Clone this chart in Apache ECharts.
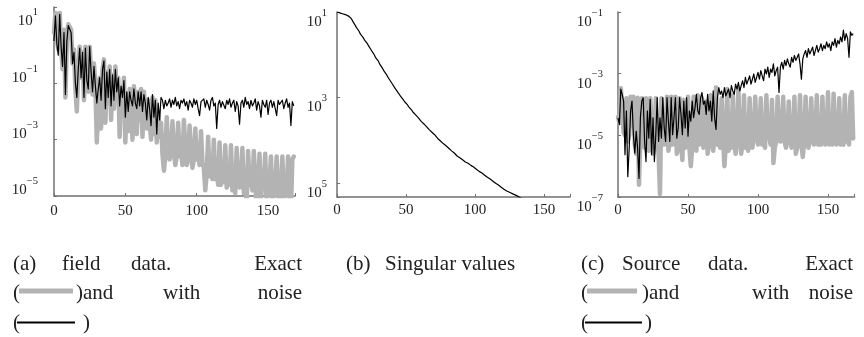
<!DOCTYPE html>
<html><head><meta charset="utf-8">
<script src="https://cdn.jsdelivr.net/npm/echarts@6/dist/echarts.min.js"></script>
<style>html,body{margin:0;padding:0;background:#fff}#c{width:864px;height:337px}</style>
</head><body><div id="c"></div>
<script>
// ---- data (log10 exponents) ----
const xTickValues = [0, 50, 100, 150];
const fieldExactExp = [0.8,1.5,0.6,0.2,1.5,0.3,-0.5,0.9,-1.5,0.5,
1.1,1.05,0.9,-0.3,0.2,-1.2,-2.0,-0.5,0.3,-0.8,
0.1,-1.6,0.3,-0.9,-1.3,0.3,-0.6,-1.4,-0.3,-1.1,
-3.1,-1.7,-0.8,-2.6,-0.5,-0.15,-2.4,-0.6,-1.7,-0.4,
-2.3,-0.7,-1.9,-0.4,-1.2,-0.8,-2.9,-1.2,-1.8,-0.8,
-3.1,-1.4,-2.7,-1.2,-1.6,-3.0,-1.1,-2.0,-2.8,-1.3,
-2.3,-1.2,-2.9,-1.3,-2.0,-2.6,-1.6,-2.4,-3.0,-1.5,
-2.8,-1.6,-3.1,-2.0,-2.9,-2.4,-3.5,-4.1,-3.6,-2.2,
-3.4,-3.7,-3.5,-2.35,-3.4,-3.9,-3.6,-2.4,-3.6,-3.4,
-3.9,-2.3,-3.3,-3.9,-3.6,-2.5,-3.5,-4.0,-3.7,-2.6,
-3.7,-3.5,-3.9,-2.7,-3.8,-4.0,-4.8,-4.2,-2.9,-4.3,
-4.0,-4.4,-3.0,-4.4,-4.0,-4.6,-3.1,-4.6,-4.3,-4.5,
-3.2,-4.7,-4.4,-4.6,-3.2,-4.8,-4.4,-4.9,-3.3,-4.5,
-4.7,-4.5,-3.3,-4.9,-4.5,-5.3,-3.4,-4.6,-4.4,-4.8,
-3.4,-4.5,-5.4,-4.6,-3.5,-5.1,-4.5,-4.7,-3.5,-5.4,
-4.6,-4.5,-3.6,-5.2,-4.6,-4.8,-3.6,-5.5,-5.3,-4.6,
-3.6,-5.2,-4.6,-4.8,-3.6,-5.6,-5.5,-3.7,-3.6];
const fieldNoisyExp = [0.5,1.4,0.4,0.0,1.45,0.3,-0.4,0.8,-1.4,0.5,
1.05,1.0,0.8,-0.3,0.1,-1.0,-1.5,-0.5,0.25,-0.8,
0.1,-1.5,0.25,-0.9,-1.2,0.3,-0.6,-1.3,-0.4,-1.1,
-1.7,-1.2,-0.8,-1.6,-0.5,-0.2,-1.9,-0.6,-1.5,-0.5,
-1.8,-0.7,-1.6,-0.5,-1.3,-0.8,-1.8,-1.1,-1.5,-0.9,
-2.2,-1.3,-2.0,-1.3,-1.6,-1.8,-1.2,-1.7,-1.9,-1.3,
-1.8,-1.3,-2.0,-1.4,-1.7,-2.3,-1.5,-1.9,-2.5,-1.4,
-2.2,-1.6,-2.8,-1.7,-2.3,-1.5,-1.6,-1.9,-1.6,-1.8,
-1.7,-1.55,-1.85,-1.6,-1.75,-1.5,-1.8,-1.65,-1.9,-1.6,
-1.7,-1.55,-1.8,-1.65,-1.95,-1.6,-1.7,-1.85,-1.55,-1.75,
-1.6,-1.9,-2.15,-1.65,-1.7,-1.55,-1.85,-1.6,-1.75,-1.95,
-1.6,-1.5,-1.8,-1.7,-2.6,-1.75,-1.6,-1.85,-1.65,-1.7,
-1.9,-1.6,-1.75,-1.55,-1.85,-1.7,-1.6,-2.0,-1.65,-1.8,
-2.45,-1.7,-1.6,-1.85,-1.5,-1.75,-1.65,-1.9,-1.6,-1.8,
-1.7,-1.55,-1.95,-1.65,-1.8,-2.2,-1.6,-1.75,-1.85,-1.6,
-2.1,-1.7,-1.6,-1.85,-1.65,-1.9,-2.15,-1.6,-1.75,-1.8,
-1.6,-1.9,-1.7,-1.55,-1.85,-1.7,-2.5,-1.65,-1.8];
const singularExp = [1.00,1.01,1.02,1.03,1.04,1.05,1.06,1.07,1.09,1.11,
1.14,1.19,1.25,1.30,1.36,1.40,1.45,1.52,1.55,1.60,
1.66,1.69,1.74,1.80,1.83,1.90,1.95,2.00,2.07,2.10,
2.15,2.22,2.25,2.32,2.38,2.41,2.47,2.53,2.58,2.62,
2.68,2.72,2.78,2.83,2.86,2.92,2.97,3.00,3.05,3.10,
3.13,3.17,3.22,3.25,3.29,3.34,3.37,3.41,3.45,3.48,
3.52,3.56,3.59,3.62,3.66,3.69,3.72,3.76,3.78,3.82,
3.86,3.88,3.92,3.96,3.99,4.02,4.04,4.08,4.11,4.13,
4.16,4.19,4.21,4.25,4.28,4.30,4.34,4.37,4.39,4.41,
4.44,4.46,4.48,4.51,4.53,4.54,4.57,4.59,4.61,4.63,
4.66,4.68,4.70,4.73,4.75,4.77,4.80,4.82,4.84,4.87,
4.89,4.91,4.94,4.96,4.98,5.01,5.03,5.05,5.08,5.10,
5.12,5.15,5.17,5.19,5.21,5.22,5.24,5.25,5.27,5.28,
5.30,5.31,5.33,5.35,5.37];
const sourceExactExp = [-4.4,-4.6,-3.47,-3.5,-4.9,-5.0,-3.8,-5.2,-5.0,-3.75,
-4.7,-3.75,-5.3,-5.6,-3.78,-6.6,-5.0,-3.8,-5.0,-5.4,
-3.8,-5.1,-5.5,-3.8,-4.6,-5.6,-5.3,-3.8,-5.2,-5.6,
-6.9,-3.8,-3.78,-5.3,-5.0,-3.75,-5.5,-5.2,-3.75,-5.3,
-4.9,-3.75,-5.6,-5.4,-3.8,-5.2,-5.8,-3.85,-5.4,-5.1,
-3.75,-5.4,-6.0,-5.4,-3.75,-5.1,-5.5,-3.7,-5.3,-4.9,
-3.8,-5.4,-5.3,-3.9,-5.6,-5.2,-3.7,-5.2,-5.5,-5.0,
-3.45,-5.3,-5.1,-5.4,-3.8,-5.0,-6.0,-5.3,-3.5,-5.5,
-5.2,-5.4,-3.7,-5.2,-5.6,-5.0,-3.5,-5.1,-5.6,-5.2,
-3.7,-5.4,-5.2,-5.5,-3.8,-5.2,-5.4,-5.0,-3.75,-4.9,
-5.3,-5.0,-3.8,-5.3,-5.1,-5.4,-3.7,-5.1,-5.0,-5.3,
-3.85,-5.9,-5.4,-5.2,-3.75,-4.8,-5.2,-5.1,-3.75,-5.2,
-5.4,-5.0,-3.9,-5.2,-5.4,-5.3,-3.75,-5.6,-5.4,-5.1,
-3.7,-5.3,-5.7,-5.2,-3.75,-5.0,-5.4,-5.2,-3.8,-5.0,
-5.3,-5.1,-3.7,-5.3,-5.0,-5.3,-3.75,-5.1,-5.3,-5.0,
-3.6,-5.3,-5.1,-5.3,-3.65,-5.1,-5.3,-5.1,-3.8,-5.3,
-5.2,-5.3,-3.7,-5.2,-4.9,-5.3,-3.75,-3.6,-5.1];
const sourceNoisyExp = [-4.43,-4.65,-3.50,-3.67,-3.89,-5.63,-4.21,-6.34,-5.42,-4.21,
-3.89,-4.98,-5.58,-4.87,-5.42,-6.40,-4.43,-3.89,-3.78,-5.20,
-5.85,-4.21,-5.09,-3.83,-5.63,-4.43,-5.85,-4.98,-3.78,-5.20,
-4.43,-5.09,-3.78,-4.76,-5.20,-3.78,-4.54,-5.20,-3.78,-4.98,
-4.43,-3.78,-5.09,-4.76,-3.78,-4.32,-4.98,-3.89,-4.76,-3.78,
-5.03,-4.21,-4.54,-3.89,-4.43,-4.10,-3.67,-4.21,-4.32,-3.78,
-3.61,-3.99,-3.89,-4.32,-3.67,-4.21,-3.89,-4.54,-3.56,-4.43,
-4.81,-3.78,-3.45,-3.67,-3.56,-3.78,-3.45,-3.72,-3.61,-3.50,
-3.78,-3.39,-3.56,-3.67,-3.34,-3.50,-3.28,-3.56,-3.39,-3.23,
-3.45,-3.12,-3.34,-3.28,-3.07,-3.34,-3.18,-3.01,-3.28,-3.12,
-2.96,-3.18,-2.90,-3.07,-3.23,-2.85,-3.01,-2.79,-3.12,-2.85,
-2.96,-2.68,-3.07,-2.90,-2.79,-3.61,-2.79,-2.63,-2.85,-2.57,
-2.74,-2.52,-2.68,-2.79,-2.47,-2.63,-2.41,-2.57,-2.47,-2.36,
-2.68,-3.18,-2.52,-2.36,-2.25,-2.47,-2.19,-2.36,-2.30,-2.14,
-2.41,-2.25,-2.08,-2.30,-2.19,-2.03,-2.25,-2.08,-2.19,-1.97,
-2.14,-2.03,-2.25,-1.97,-2.08,-1.86,-2.14,-1.92,-2.03,-1.81,
-1.97,-1.59,-1.92,-1.70,-1.86,-2.47,-1.645,-1.755,-1.70];

// ---- styling / layout ----
const SERIF = '"Liberation Serif", "DejaVu Serif", serif';
const AXIS_COLOR = '#707070';
const TEXT_COLOR = '#222';
const GRAY = '#b3b3b3';

function toPairs(exps) { return exps.map((e, i) => [i, Math.pow(10, e)]); }

function powLabel(showSign) {
  return function (v) {
    const l = Math.log10(v);
    const e = Math.round(l);
    if (Math.abs(l - e) > 1e-6) return '';
    const s = showSign && e < 0 ? '\u2212' + Math.abs(e) : String(Math.abs(e));
    return '{b|10}{s|' + s + '}';
  };
}
const rich = {
  b: { fontFamily: SERIF, fontSize: 15, color: TEXT_COLOR, lineHeight: 22, verticalAlign: 'bottom' },
  s: { fontFamily: SERIF, fontSize: 10.5, color: TEXT_COLOR, verticalAlign: 'top' }
};

function xAx(gi, margin) {
  return {
    gridIndex: gi, type: 'value', min: 0, max: 169, interval: 50,
    axisLine: { lineStyle: { color: AXIS_COLOR, width: 1.5 } },
    axisTick: { inside: true, length: 3, lineStyle: { color: AXIS_COLOR } },
    splitLine: { show: false },
    axisLabel: {
      margin: margin, fontFamily: SERIF, fontSize: 15, color: TEXT_COLOR,
      formatter: v => (xTickValues.indexOf(v) >= 0 ? String(v) : '')
    }
  };
}
function yAx(gi, min, max, inverse, margin, padding, showSign) {
  return {
    gridIndex: gi, type: 'log', logBase: 10, min: min, max: max, interval: 2, inverse: inverse,
    axisLine: { show: true, lineStyle: { color: AXIS_COLOR, width: 1.5 } },
    axisTick: { show: true, inside: true, length: 3, lineStyle: { color: AXIS_COLOR } },
    splitLine: { show: false }, minorTick: { show: false },
    axisLabel: { margin: margin, padding: padding, showMinLabel: true, showMaxLabel: true,
      formatter: powLabel(showSign), rich: rich }
  };
}

// caption layout
const capFont = '21px ' + SERIF;
const captionWords = [
  ['(a)', 13, 264, 'left'], ['field', 62, 264, 'left'], ['data.', 131, 264, 'left'], ['Exact', 302, 264, 'right'],
  ['(', 13, 293, 'left'], [')and', 76, 293, 'left'], ['with', 163, 293, 'left'], ['noise', 302, 293, 'right'],
  ['(', 13, 323, 'left'], [')', 83, 323, 'left'],
  ['(b)', 346, 264, 'left'], ['Singular values', 385, 264, 'left'],
  ['(c)', 581, 264, 'left'], ['Source', 622, 264, 'left'], ['data.', 708, 264, 'left'], ['Exact', 853, 264, 'right'],
  ['(', 581, 293, 'left'], [')and', 642, 293, 'left'], ['with', 752, 293, 'left'], ['noise', 853, 293, 'right'],
  ['(', 581, 323, 'left'], [')', 645, 323, 'left']
];
const graphics = captionWords.map(w => ({
  type: 'text', x: w[1], y: w[2],
  style: { text: w[0], font: capFont, fill: TEXT_COLOR, textAlign: w[3], textVerticalAlign: 'middle' }
}));
graphics.push({ type: 'rect', shape: { x: 19, y: 288.5, width: 54, height: 5 }, style: { fill: GRAY } });
graphics.push({ type: 'line', shape: { x1: 17, y1: 322.5, x2: 75, y2: 322.5 }, style: { stroke: '#000', lineWidth: 2 } });
graphics.push({ type: 'rect', shape: { x: 587, y: 288.5, width: 50, height: 5 }, style: { fill: GRAY } });
graphics.push({ type: 'line', shape: { x1: 585, y1: 322.5, x2: 642, y2: 322.5 }, style: { stroke: '#000', lineWidth: 2 } });

const grayLine = { color: GRAY, width: 4.5, join: 'round', cap: 'round' };
const blackLine = { color: '#000', width: 1.2, join: 'round' };

const option = {
  animation: false,
  backgroundColor: '#fff',
  grid: [
    { left: 54, top: 7, width: 241.2, height: 189 },
    { left: 337, top: 12, width: 233.2, height: 185 },
    { left: 618, top: 12, width: 236.6, height: 185 }
  ],
  xAxis: [xAx(0, 8), xAx(1, 6), xAx(2, 6)],
  yAxis: [
    yAx(0, 1e-5, Math.pow(10, 1.71), false, 16, [0, 0, 18, 0], true),
    yAx(1, 10, Math.pow(10, 5.33), true, 10, [13, 0, 0, 0], false),
    yAx(2, 1e-7, 1e-1, false, 15, [13, 0, 0, 0], true)
  ],
  series: [
    { type: 'line', xAxisIndex: 0, yAxisIndex: 0, data: toPairs(fieldExactExp), showSymbol: false, lineStyle: grayLine, z: 2 },
    { type: 'line', xAxisIndex: 0, yAxisIndex: 0, data: toPairs(fieldNoisyExp), showSymbol: false, lineStyle: blackLine, z: 3 },
    { type: 'line', xAxisIndex: 1, yAxisIndex: 1, data: toPairs(singularExp), showSymbol: false, lineStyle: blackLine, z: 3 },
    { type: 'line', xAxisIndex: 2, yAxisIndex: 2, data: toPairs(sourceExactExp), showSymbol: false, lineStyle: grayLine, z: 2 },
    { type: 'line', xAxisIndex: 2, yAxisIndex: 2, data: toPairs(sourceNoisyExp), showSymbol: false, lineStyle: blackLine, z: 3 }
  ],
  graphic: graphics
};
const chart = echarts.init(document.getElementById('c'), null, { renderer: 'canvas' });
chart.setOption(option);
</script>
</body></html>
